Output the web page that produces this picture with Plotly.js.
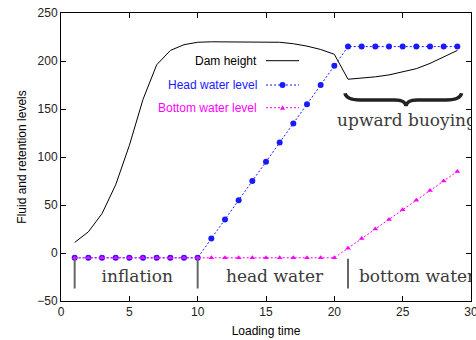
<!DOCTYPE html>
<html>
<head>
<meta charset="utf-8">
<script src="https://cdn.plot.ly/plotly-3.0.1.min.js"></script>
<style>html,body{margin:0;padding:0;background:#fff;}#chart{width:476px;height:340px;}</style>
</head>
<body>
<div id="chart"></div>
<script>
// ---- data ----
const loadingTime = [1,2,3,4,5,6,7,8,9,10,11,12,13,14,15,16,17,18,19,20,21,22,23,24,25,26,27,28,29];
const damHeight = [11,22,41,71,112,160,196,211,217,219.5,220,220,220,220,220,219.5,218,215.5,212,207,181,182,183.5,185.5,188.5,192,197.5,204.5,211];
const headWater = [-5,-5,-5,-5,-5,-5,-5,-5,-5,-5,15,35,55,75,95,115,135,155,175,195,215,215,215,215,215,215,215,215,215];
const bottomWater = [-5,-5,-5,-5,-5,-5,-5,-5,-5,-5,-5,-5,-5,-5,-5,-5,-5,-5,-5,-5,5,15,25,35,45,55,65,75,85];
const seriesNames = ['Dam height','Head water level','Bottom water level'];
const phaseStart = [1, 10, 21];
const phaseMarkY = [-6, -37];
const phaseLabels = ['inflation','head water','bottom water','upward buoying'];
const phaseLabelX = [2.97, 12.07, 21.8, 20.2];
const phaseLabelY = [-26, -26, -26, 137];
const braceSpan = [20.78, 29.31];
const braceLevels = [166.4, 159.4, 153.1]; // end, bar, tip
const xTicks = [0,5,10,15,20,25,30];
const yTicks = [-50,0,50,100,150,200,250];

const BLUE = '#1a1aff', MAG = '#ff00ff';
const sans = 'Liberation Sans, Arial, sans-serif';
const serif = 'DejaVu Serif, serif';

// phase separator lines
const sepX = [], sepY = [];
phaseStart.forEach(x => { sepX.push(x, x, null); sepY.push(phaseMarkY[0], phaseMarkY[1], null); });

const traces = [
  {x: loadingTime, y: damHeight, mode: 'lines', line: {color: '#000', width: 1}, name: seriesNames[0]},
  {x: loadingTime, y: headWater, mode: 'lines+markers', line: {color: BLUE, width: 1, dash: '2px,2px'},
   marker: {color: BLUE, size: 6, symbol: 'circle'}, name: seriesNames[1]},
  {x: loadingTime, y: bottomWater, mode: 'lines+markers', line: {color: MAG, width: 1, dash: '2px,2px'},
   marker: {color: MAG, size: 5, symbol: 'triangle-up'}, name: seriesNames[2]},
  {x: sepX, y: sepY, mode: 'lines', line: {color: '#666', width: 2}, hoverinfo: 'skip'},
  {x: phaseLabelX, y: phaseLabelY, mode: 'text', text: phaseLabels, textposition: 'middle right',
   textfont: {family: serif, size: 17, color: '#3a3a3a'}, cliponaxis: true, hoverinfo: 'skip'}
];

// brace path in data coordinates
const [bL, bR] = braceSpan;
const bC = (bL + bR) / 2 + 0.2;
const [yE, yB, yT] = braceLevels;
const bracePath = `M ${bL},${yE} Q ${bL+0.1},${yB} ${bL+1.1},${yB} L ${bC-0.8},${yB} Q ${bC-0.05},${yB} ${bC},${yT} ` +
  `Q ${bC+0.05},${yB} ${bC+0.8},${yB} L ${bR-1.1},${yB} Q ${bR-0.1},${yB} ${bR},${yE}`;

// custom legend (gnuplot style: text then sample)
const legRows = [0.8344, 0.75, 0.6712];
const legColors = ['#000', BLUE, MAG];
const legTextX = 0.483, legLine = [0.5, 0.5805], legMid = 0.5403;
const annotations = seriesNames.map((n, i) => ({
  xref: 'paper', yref: 'paper', x: legTextX, y: legRows[i], xanchor: 'right', yanchor: 'middle',
  text: n, showarrow: false, font: {family: sans, size: 12, color: legColors[i]}
}));
const shapes = [
  {type: 'path', xref: 'x', yref: 'y', path: bracePath, line: {color: '#222', width: 3.5}},
  {type: 'line', xref: 'paper', yref: 'paper', x0: legLine[0], x1: legLine[1], y0: legRows[0], y1: legRows[0], line: {color: '#000', width: 1}},
  {type: 'line', xref: 'paper', yref: 'paper', x0: legLine[0], x1: legLine[1], y0: legRows[1], y1: legRows[1], line: {color: BLUE, width: 1, dash: '2px,2px'}},
  {type: 'line', xref: 'paper', yref: 'paper', x0: legLine[0], x1: legLine[1], y0: legRows[2], y1: legRows[2], line: {color: MAG, width: 1, dash: '2px,2px'}},
  {type: 'circle', xref: 'paper', yref: 'paper', xsizemode: 'pixel', ysizemode: 'pixel', xanchor: legMid, yanchor: legRows[1],
   x0: -3, x1: 3, y0: -3, y1: 3, fillcolor: BLUE, line: {width: 0}},
  {type: 'path', xref: 'paper', yref: 'paper', xsizemode: 'pixel', ysizemode: 'pixel', xanchor: legMid, yanchor: legRows[2],
   path: 'M -2.5,-2 L 2.5,-2 L 0,2.5 Z', fillcolor: MAG, line: {width: 0}}
];

const axisCommon = {
  showline: true, linecolor: '#000', linewidth: 1, mirror: 'ticks', ticks: 'inside', ticklen: 5,
  tickcolor: '#000', showgrid: false, zeroline: false, ticklabeloverflow: 'allow',
  tickfont: {family: sans, size: 12, color: '#222'}
};

const layout = {
  width: 476, height: 340, margin: {l: 61, r: 5, t: 13, b: 39},
  paper_bgcolor: '#fff', plot_bgcolor: '#fff', showlegend: false,
  xaxis: Object.assign({}, axisCommon, {range: [0, 30], tickvals: xTicks,
    title: {text: 'Loading time', font: {family: sans, size: 12, color: '#000'}, standoff: 8}}),
  yaxis: Object.assign({}, axisCommon, {range: [-50, 250], tickvals: yTicks,
    title: {text: 'Fluid and retention levels', font: {family: sans, size: 12, color: '#000'}, standoff: 8}}),
  annotations: annotations, shapes: shapes
};

Plotly.newPlot('chart', traces, layout, {staticPlot: true, displayModeBar: false});
</script>
</body>
</html>
